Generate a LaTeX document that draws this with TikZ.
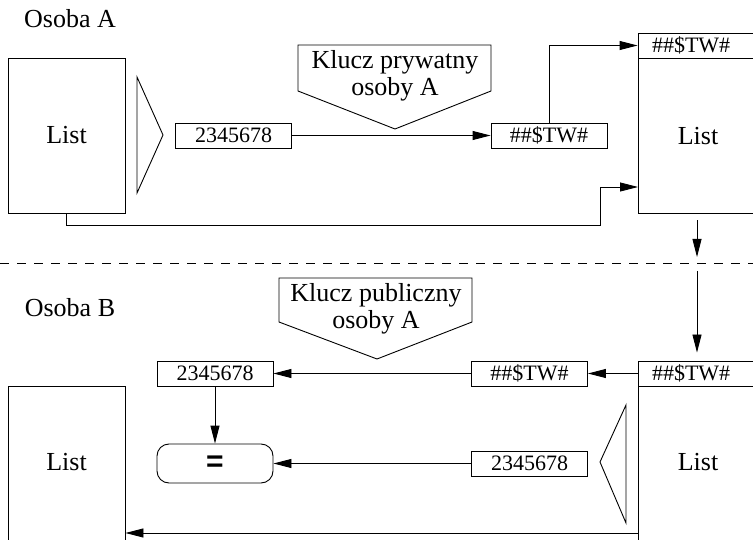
\documentclass[tikz,border=0pt]{standalone}
\usepackage{fontspec}
\setmainfont{Liberation Serif}
\setsansfont{Liberation Sans}
\usepackage{tikz}
\usetikzlibrary{arrows.meta}

\begin{document}
\begin{tikzpicture}[x=1pt, y=-1pt, line width=0.9pt,
    big/.style={font=\fontsize{26}{27}\selectfont, align=center},
    numbox/.style={draw, minimum width=116pt, minimum height=25pt, inner sep=0pt, font=\fontsize{22}{22}\selectfont},
    docbox/.style={draw, minimum width=120pt, inner sep=0pt},
    hdrbox/.style={draw, minimum width=120pt, minimum height=25pt, inner sep=0pt, text width=92pt, align=left, font=\fontsize{22}{22}\selectfont},
    arr/.style={-{Triangle[length=18pt,width=9pt]}}]
        \useasboundingbox (0,0) rectangle (753,540);
        \clip (0,0) rectangle (753,540);
        % Osoba A
        \node[big] (osobaA) at (70,19) {Osoba A};
        \node[docbox, big, minimum width=117pt, minimum height=155pt] (listA) at (66.5,135.5) {List};
        \draw (137,77) -- (163,135) -- (137,193) -- cycle;
        \node[numbox] (numA) at (233.5,135.5) {2345678};
        \node[numbox] (encA) at (549,135.5) {\#\#\$TW\#};
        \draw (298,45) -- (491,45) -- (491,91) -- (395,129) -- (298,91) -- cycle;
        \node[big] (keyA) at (395,76) {Klucz prywatny\\osoby A};
        \node[hdrbox] (hdrA) at (698,45.5) {\#\#\$TW\#};
        \node[docbox, big, minimum height=155pt, anchor=north] (docA) at (hdrA.south) {List};
        \coordinate (inA) at (638,187);
        \draw[arr] (numA) -- (encA);
        \draw[arr] (encA.north) |- (hdrA.west);
        \draw[arr] (listA.south) |- (600,225) |- (inA);
        % granica
        \coordinate (cut) at (697,263);
        \draw[dash pattern=on 9pt off 8pt] (0,263) -- (753,263);
        \draw[arr, shorten <=6pt, shorten >=6pt] (docA.south -| cut) -- (cut);
        % Osoba B
        \node[big] (osobaB) at (70,308) {Osoba B};
        \draw (279,278) -- (472,278) -- (472,322) -- (377,359) -- (279,322) -- cycle;
        \node[big] (keyB) at (376,309) {Klucz publiczny\\osoby A};
        \node[hdrbox] (hdrB) at (698,373.5) {\#\#\$TW\#};
        \node[docbox, minimum height=190pt, anchor=north] (docB) at (hdrB.south) {};
        \node[big] (docBtxt) at (698,462) {List};
        \node[docbox, minimum width=117pt, minimum height=190pt, anchor=north] (listB) at (66.5,386) {};
        \node[big] (listBtxt) at (66.5,462) {List};
        \node[numbox] (encB) at (529.5,373.5) {\#\#\$TW\#};
        \node[numbox] (numB) at (215,373.5) {2345678};
        \node[numbox] (numC) at (529.5,463.5) {2345678};
        \node[draw, rounded corners=12pt, minimum width=116pt, minimum height=39pt, inner sep=0pt,
            font=\fontsize{30}{30}\selectfont\sffamily\bfseries] (eqB) at (215,463.5) {=};
        \draw (626,405) -- (600,462) -- (626,523) -- cycle;
        \coordinate (outB) at (638,533);
        \draw[arr, shorten <=8pt, shorten >=8pt] (cut) -- (hdrB.north -| cut);
        \draw[arr] (hdrB) -- (encB);
        \draw[arr] (encB) -- (numB);
        \draw[arr] (numB) -- (eqB);
        \draw[arr] (numC) -- (eqB);
        \draw[arr] (outB) -- (outB -| listB.east);
      \end{tikzpicture}
\end{document}
